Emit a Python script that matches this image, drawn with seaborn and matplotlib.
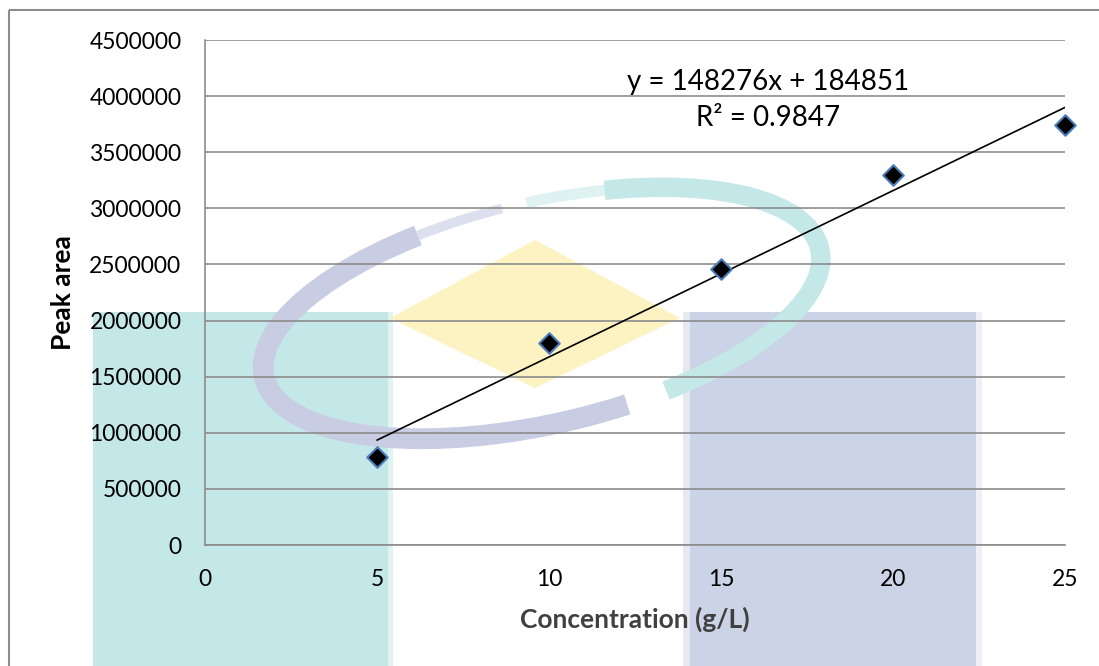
import matplotlib
matplotlib.use("Agg")
import matplotlib.pyplot as plt
import seaborn as sns
import pandas as pd
import numpy as np
from matplotlib.patches import Rectangle, Polygon, Arc

# ---- data ----
concentration = [5, 10, 15, 20, 25]
peak_area = [784000, 1800000, 2460000, 3300000, 3740000]
x_ticks = [0, 5, 10, 15, 20, 25]
y_ticks = [0, 500000, 1000000, 1500000, 2000000, 2500000, 3000000, 3500000, 4000000, 4500000]
equation_text = "y = 148276x + 184851"
r2_text = "R² = 0.9847"
x_label = "Concentration (g/L)"
y_label = "Peak area"

sns.set_theme(style="white")
plt.rcParams['font.family'] = ['Lato', 'DejaVu Sans']

W, H = 1099, 666
fig = plt.figure(figsize=(W / 100, H / 100), dpi=100)

# ---- background watermark (figure pixel coords) ----
bg = fig.add_axes([0, 0, 1, 1], zorder=0)
bg.set_xlim(0, W)
bg.set_ylim(H, 0)
bg.axis("off")
bg.add_patch(Rectangle((93, 312), 295, 360, facecolor="#c4e8e8", edgecolor="none"))
bg.add_patch(Rectangle((388, 312), 5, 360, facecolor="#e2f3f3", edgecolor="none"))
bg.add_patch(Rectangle((690, 312), 286, 360, facecolor="#cbd3e6", edgecolor="none"))
bg.add_patch(Rectangle((683, 312), 7, 360, facecolor="#e6e9f2", edgecolor="none"))
bg.add_patch(Rectangle((976, 312), 6, 360, facecolor="#eef0f6", edgecolor="none"))
bg.add_patch(Polygon([(390, 318), (535, 240), (680, 318), (535, 388)],
                     closed=True, facecolor="#fdf3c2", edgecolor="none"))
ring_c, ring_w, ring_h, ring_ang = (542, 313), 570, 222, -13
bg.add_patch(Arc(ring_c, ring_w, ring_h, angle=ring_ang, theta1=60, theta2=225, color="#c9cde4", lw=15))
bg.add_patch(Arc(ring_c, ring_w, ring_h, angle=ring_ang, theta1=225, theta2=262, color="#dcdfee", lw=7))
bg.add_patch(Arc(ring_c, ring_w, ring_h, angle=ring_ang, theta1=275, theta2=310, color="#dff2f2", lw=8))
bg.add_patch(Arc(ring_c, ring_w, ring_h, angle=ring_ang, theta1=310, theta2=405, color="#c4e8e8", lw=14))
# outer frame
bg.add_patch(Rectangle((8.5, 9.5), 1200, 800, facecolor="none", edgecolor="#8c8c8c", lw=1.5))

# ---- main chart ----
ax = fig.add_axes([205 / W, 1 - 545 / H, (1065 - 205) / W, (545 - 40) / H], zorder=1)
ax.set_facecolor("none")
df = pd.DataFrame({"conc": concentration, "area": peak_area})
sns.regplot(data=df, x="conc", y="area", ax=ax, ci=None, truncate=True,
            scatter=False, line_kws=dict(color="black", lw=1.2, zorder=3))
sns.scatterplot(data=df, x="conc", y="area", ax=ax, marker="D", s=110,
                color="black", edgecolor="#4a7ebb", linewidth=1.5, zorder=4, clip_on=False)

ax.set_xlim(0, 25)
ax.set_ylim(0, 4500000)
ax.set_xticks(x_ticks)
ax.set_yticks(y_ticks)
ax.set_xticklabels([str(t) for t in x_ticks])
ax.set_yticklabels([str(t) for t in y_ticks])
ax.grid(axis="y", color="#8c8c8c", lw=1.2)
ax.grid(axis="x", visible=False)
for s in ["top", "right"]:
    ax.spines[s].set_visible(False)
ax.spines["left"].set_color("#8c8c8c")
ax.spines["bottom"].set_color("#8c8c8c")
ax.spines["left"].set_linewidth(1.2)
ax.spines["bottom"].set_linewidth(1.2)
ax.tick_params(axis="both", which="major", labelsize=16.5, colors="#8c8c8c",
               labelcolor="black", length=5, width=1.2, direction="out")
ax.tick_params(axis="y", pad=12)
ax.tick_params(axis="x", pad=12)

ax.set_xlabel(x_label, fontsize=19, fontweight="bold", color="#404040", labelpad=12)
ax.set_ylabel(y_label, fontsize=19, fontweight="bold", color="black", labelpad=10)

ax.text(768, 82, equation_text, transform=bg.transData, ha="center", va="center",
        fontsize=20, color="black", zorder=5)
ax.text(768, 118, r2_text, transform=bg.transData, ha="center", va="center",
        fontsize=20, color="black", zorder=5)

fig.savefig("out.png", dpi=100)
